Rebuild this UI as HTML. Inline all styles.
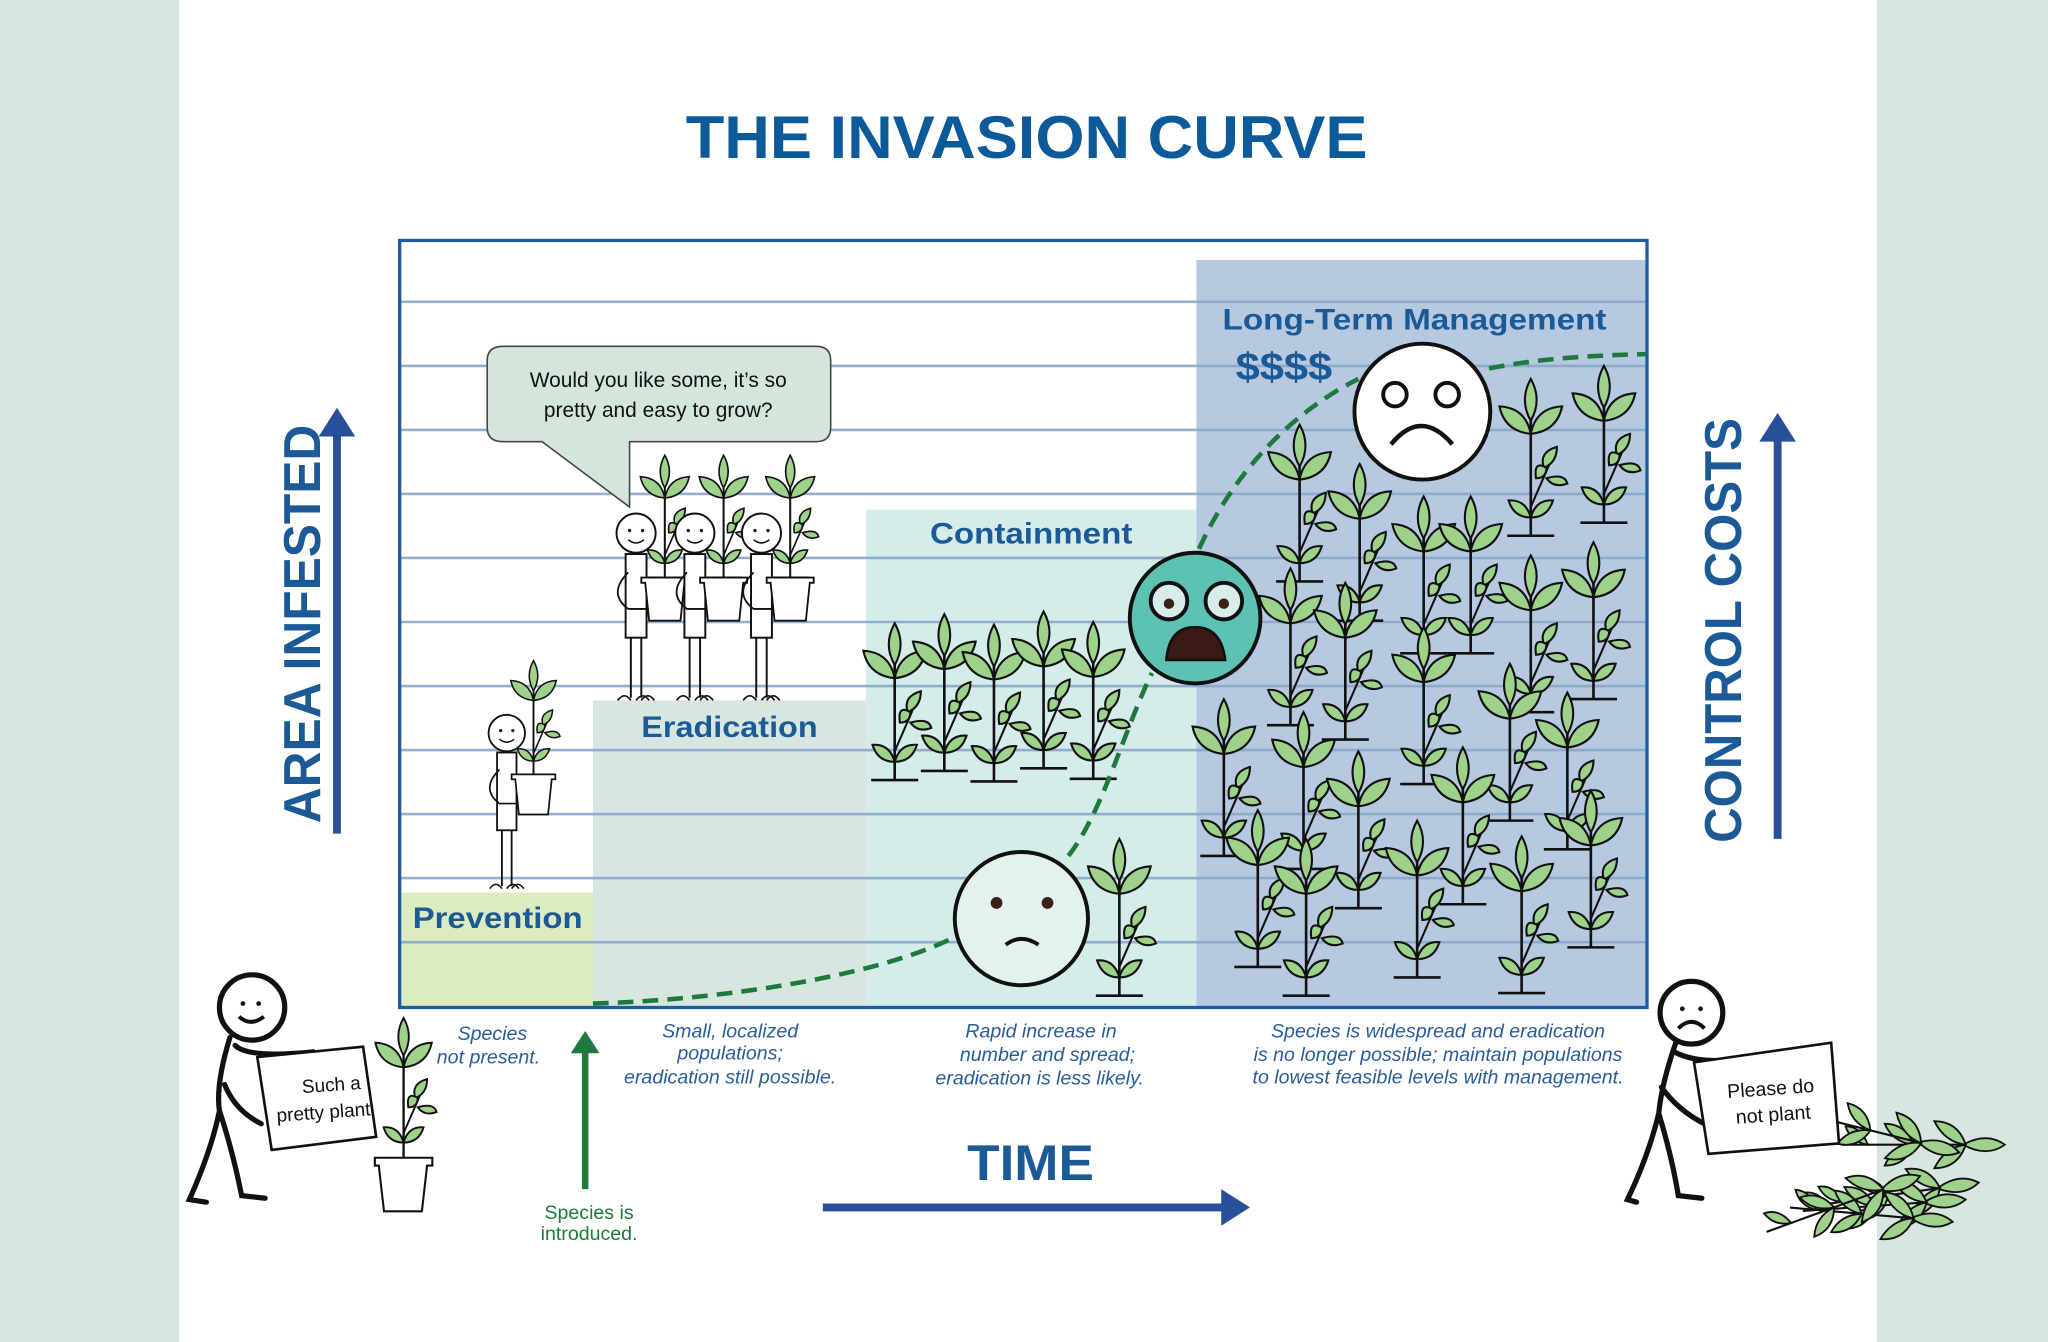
<!DOCTYPE html>
<html><head><meta charset="utf-8"><style>html,body{margin:0;padding:0;background:#fff}svg{display:block}</style></head>
<body>
<svg width="2048" height="1342" viewBox="0 0 1568 1027" preserveAspectRatio="none" xmlns="http://www.w3.org/2000/svg" font-family="Liberation Sans, sans-serif">
<defs>
<g id="p">
 <line x1="0" y1="0" x2="0" y2="-92" stroke="#111" stroke-width="2"/>
 <line x1="-18" y1="0" x2="18" y2="0" stroke="#111" stroke-width="2"/>
 <line x1="0" y1="-22" x2="20" y2="-68" stroke="#111" stroke-width="1.6"/>
 <g fill="#9ed28a" stroke="#111" stroke-width="1.6">
  <path d="M0,-120 Q9,-104 0,-88 Q-9,-104 0,-120Z"/>
  <path d="M0,-78 Q-4,-98 -24,-99 Q-20,-80 0,-78Z"/>
  <path d="M0,-78 Q4,-98 24,-99 Q20,-80 0,-78Z"/>
  <path d="M20,-68 Q6,-64 10,-52 Q20,-56 20,-68Z"/>
  <path d="M12,-52 Q2,-58 4,-44 Q12,-44 12,-52Z"/>
  <path d="M12,-44 Q26,-48 28,-40 Q18,-36 12,-44Z"/>
  <path d="M0,-14 Q-4,-28 -17,-27 Q-13,-14 0,-14Z"/>
  <path d="M0,-14 Q4,-28 17,-27 Q13,-14 0,-14Z"/>
 </g>
</g>
<g id="pr">
 <line x1="0" y1="0" x2="-125" y2="0" stroke="#111" stroke-width="1.6"/>
 <g fill="#9ed28a" stroke="#111" stroke-width="1.4">
  <path d="M0,0 Q-14,-10 -32,0 Q-14,10 0,0Z"/>
  <path d="M-30,0 Q-36,-18 -54,-18 Q-46,-2 -30,0Z"/>
  <path d="M-30,0 Q-36,18 -54,18 Q-46,2 -30,0Z"/>
  <path d="M-70,0 Q-76,-16 -92,-16 Q-86,-2 -70,0Z"/>
  <path d="M-70,0 Q-76,16 -92,16 Q-86,2 -70,0Z"/>
  <path d="M-105,0 Q-110,-14 -122,-14 Q-118,-2 -105,0Z"/>
 </g>
</g>
<g id="man">
 <line x1="-4" y1="80" x2="-4" y2="126" stroke="#111" stroke-width="1.5"/>
 <line x1="4" y1="80" x2="4" y2="126" stroke="#111" stroke-width="1.5"/>
 <path d="M-14,128 q5,-7 10,0 M0,128 q5,-7 10,0 M4,128 q5,-7 10,0" fill="none" stroke="#111" stroke-width="1.3"/>
 <rect x="-8" y="16" width="16" height="64" fill="#fff" stroke="#111" stroke-width="1.5"/>
 <circle cx="0" cy="0" r="15" fill="#fff" stroke="#111" stroke-width="1.5"/>
 <circle cx="-5" cy="-2" r="1.3" fill="#111"/><circle cx="5" cy="-2" r="1.3" fill="#111"/>
 <path d="M-6,5 Q0,10 6,5" fill="none" stroke="#111" stroke-width="1.2"/>
 <path d="M-6,30 Q-22,46 -6,58 L16,58" fill="none" stroke="#111" stroke-width="1.4"/>
 <use href="#p" transform="translate(22,34) scale(0.78)"/>
 <path d="M4,34 L40,34 L40,38 L37,38 L34,67 L10,67 L7,38 L4,38Z" fill="#fff" stroke="#111" stroke-width="1.4"/>
</g>
</defs>

<rect x="0" y="0" width="1568" height="1027" fill="#fff"/>
<rect x="0" y="0" width="137" height="1027" fill="#d7e6df"/>
<rect x="1437" y="0" width="131" height="1027" fill="#d7e6df"/>

<text x="786" y="121" text-anchor="middle" font-size="46" font-weight="bold" fill="#0d5a9a" textLength="522" lengthAdjust="spacingAndGlyphs">THE INVASION CURVE</text>

<rect x="306" y="683" width="148" height="88" fill="#ddebc0"/>
<rect x="454" y="536" width="209" height="235" fill="#d8e6e0"/>
<rect x="663" y="390" width="253" height="381" fill="#d4ecea"/>
<rect x="916" y="199" width="344" height="572" fill="#b6c9e1"/>

<g stroke="#8aa7c9" stroke-width="2" opacity="0.9">
<line x1="307" y1="231" x2="1260" y2="231"/><line x1="307" y1="280" x2="1260" y2="280"/>
<line x1="307" y1="329" x2="1260" y2="329"/><line x1="307" y1="378" x2="1260" y2="378"/>
<line x1="307" y1="427" x2="1260" y2="427"/><line x1="307" y1="476" x2="1260" y2="476"/>
<line x1="307" y1="525" x2="1260" y2="525"/><line x1="307" y1="574" x2="1260" y2="574"/>
<line x1="307" y1="623" x2="1260" y2="623"/><line x1="307" y1="672" x2="1260" y2="672"/>
<line x1="307" y1="721" x2="1260" y2="721"/>
</g>
<rect x="306" y="184" width="955" height="587" fill="none" stroke="#1f5aa0" stroke-width="2.5"/>

<g font-weight="bold" fill="#1b5a96" font-size="23">
<text x="316" y="710" textLength="130" lengthAdjust="spacingAndGlyphs">Prevention</text>
<text x="491" y="564" textLength="135" lengthAdjust="spacingAndGlyphs">Eradication</text>
<text x="712" y="416" textLength="155" lengthAdjust="spacingAndGlyphs">Containment</text>
<text x="936" y="252" textLength="294" lengthAdjust="spacingAndGlyphs">Long-Term Management</text>
<text x="946" y="291" font-size="30" textLength="74" lengthAdjust="spacingAndGlyphs">$$$$</text>
</g>

<path d="M385,265 L625,265 Q636,265 636,276 L636,327 Q636,338 625,338 L482,338 L482,388 L415,338 L385,338 Q373,338 373,327 L373,276 Q373,265 385,265Z" fill="#d4e5dc" stroke="#444" stroke-width="1.2"/>
<text x="504" y="296" text-anchor="middle" font-size="16" fill="#111">Would you like some, it’s so</text>
<text x="504" y="319" text-anchor="middle" font-size="16" fill="#111">pretty and easy to grow?</text>

<use href="#man" transform="translate(487,408)"/>
<use href="#man" transform="translate(532,408)"/>
<use href="#man" transform="translate(583,408)"/>
<use href="#man" transform="translate(388,561) scale(0.93)"/>

<use href="#p" transform="translate(685,597)"/>
<use href="#p" transform="translate(723,590)"/>
<use href="#p" transform="translate(761,598)"/>
<use href="#p" transform="translate(799,588)"/>
<use href="#p" transform="translate(837,596)"/>
<use href="#p" transform="translate(857,762)"/>
<use href="#p" transform="translate(995,445)"/>
<use href="#p" transform="translate(1041,475)"/>
<use href="#p" transform="translate(1090,500)"/>
<use href="#p" transform="translate(1126,500)"/>
<use href="#p" transform="translate(1172,410)"/>
<use href="#p" transform="translate(1228,400)"/>
<use href="#p" transform="translate(988,555)"/>
<use href="#p" transform="translate(1030,566)"/>
<use href="#p" transform="translate(1090,600)"/>
<use href="#p" transform="translate(1172,545)"/>
<use href="#p" transform="translate(1156,628)"/>
<use href="#p" transform="translate(1220,535)"/>
<use href="#p" transform="translate(937,655)"/>
<use href="#p" transform="translate(998,665)"/>
<use href="#p" transform="translate(1040,695)"/>
<use href="#p" transform="translate(1120,692)"/>
<use href="#p" transform="translate(1200,650)"/>
<use href="#p" transform="translate(963,740)"/>
<use href="#p" transform="translate(1000,762)"/>
<use href="#p" transform="translate(1085,748)"/>
<use href="#p" transform="translate(1165,760)"/>
<use href="#p" transform="translate(1218,725)"/>

<path d="M454,768 C560,765 680,745 735,715 M818,655 C845,620 860,560 882,515 M918,420 C950,350 1000,310 1040,290 M1140,282 C1180,274 1220,272 1260,271" fill="none" stroke="#1e7a3c" stroke-width="3.5" stroke-dasharray="12,7"/>

<circle cx="782" cy="703" r="51" fill="#e3f2ee" stroke="#111" stroke-width="3"/>
<circle cx="763" cy="691" r="4.5" fill="#3a2118"/><circle cx="802" cy="691" r="4.5" fill="#3a2118"/>
<path d="M770,723 Q782,714 795,723" fill="none" stroke="#111" stroke-width="3"/>
<circle cx="915" cy="473" r="50" fill="#5ec2b2" stroke="#111" stroke-width="3"/>
<circle cx="895" cy="460" r="14" fill="#d8ecea" stroke="#111" stroke-width="3"/>
<circle cx="937" cy="460" r="14" fill="#d8ecea" stroke="#111" stroke-width="3"/>
<circle cx="895" cy="462" r="4" fill="#3a2118"/><circle cx="937" cy="462" r="4" fill="#3a2118"/>
<path d="M893,505 Q895,480 915,480 Q935,480 938,505Z" fill="#3a1a14" stroke="#111" stroke-width="2"/>
<circle cx="1089" cy="315" r="52" fill="#fff" stroke="#111" stroke-width="3"/>
<circle cx="1068" cy="302" r="9" fill="#fff" stroke="#111" stroke-width="3"/>
<circle cx="1108" cy="302" r="9" fill="#fff" stroke="#111" stroke-width="3"/>
<path d="M1065,340 Q1088,312 1112,340" fill="none" stroke="#111" stroke-width="3.5"/>

<text transform="translate(245,630) rotate(-90)" font-size="40" font-weight="bold" fill="#1b5a96" textLength="305" lengthAdjust="spacingAndGlyphs">AREA INFESTED</text>
<line x1="258" y1="638" x2="258" y2="330" stroke="#2a4f9a" stroke-width="6"/>
<path d="M244,334 L258,312 L272,334Z" fill="#2a4f9a"/>
<text transform="translate(1333,645) rotate(-90)" font-size="40" font-weight="bold" fill="#1b5a96" textLength="325" lengthAdjust="spacingAndGlyphs">CONTROL COSTS</text>
<line x1="1361" y1="642" x2="1361" y2="334" stroke="#2a4f9a" stroke-width="6"/>
<path d="M1347,338 L1361,316 L1375,338Z" fill="#2a4f9a"/>

<g font-style="italic" font-size="15" fill="#2a5c9a" text-anchor="middle">
<text x="377" y="796">Species</text><text x="374" y="814">not present.</text>
<text x="559" y="794">Small, localized</text><text x="559" y="811">populations;</text><text x="559" y="829">eradication still possible.</text>
<text x="797" y="794">Rapid increase in</text><text x="802" y="812">number and spread;</text><text x="796" y="830">eradication is less likely.</text>
<text x="1101" y="794">Species is widespread and eradication</text><text x="1101" y="812">is no longer possible; maintain populations</text><text x="1101" y="829">to lowest feasible levels with management.</text>
</g>
<line x1="448" y1="910" x2="448" y2="800" stroke="#1e7a3c" stroke-width="5"/>
<path d="M437,806 L448,789 L459,806Z" fill="#1e7a3c"/>
<text x="451" y="933" text-anchor="middle" font-size="15" fill="#1e7a3c">Species is</text>
<text x="451" y="949" text-anchor="middle" font-size="15" fill="#1e7a3c">introduced.</text>
<text x="789" y="903" text-anchor="middle" font-size="38" font-weight="bold" fill="#1b5a96" textLength="97" lengthAdjust="spacingAndGlyphs">TIME</text>
<line x1="630" y1="924" x2="940" y2="924" stroke="#2a4f9a" stroke-width="6"/>
<path d="M935,910 L957,924 L935,938Z" fill="#2a4f9a"/>

<g fill="none" stroke="#111" stroke-width="4" stroke-linecap="round">
<circle cx="193" cy="771" r="25" fill="#fff"/>
<path d="M176,794 Q165,830 168,850 M168,850 Q162,880 145,918 L158,920 M168,850 Q178,880 185,915 L203,917"/>
<path d="M180,800 Q190,810 240,805 M172,830 Q180,850 200,860"/>
</g>
<circle cx="186" cy="768" r="1.8" fill="#111"/><circle cx="198" cy="768" r="1.8" fill="#111"/>
<path d="M183,778 Q192,786 202,778" fill="none" stroke="#111" stroke-width="3"/>
<path d="M197,809 L278,801 L288,870 L208,880Z" fill="#fff" stroke="#111" stroke-width="2"/>
<text x="254" y="835" text-anchor="middle" font-size="14.5" fill="#111" transform="rotate(-4 254 835)">Such a</text>
<text x="248" y="856" text-anchor="middle" font-size="14.5" fill="#111" transform="rotate(-4 248 856)" textLength="72" lengthAdjust="spacingAndGlyphs">pretty plant</text>
<use href="#p" transform="translate(309,887) scale(0.9)"/>
<path d="M287,886 L331,886 L331,892 L327,892 L323,927 L294,927 L290,892 L287,892Z" fill="#fff" stroke="#111" stroke-width="1.6"/>

<g fill="none" stroke="#111" stroke-width="4" stroke-linecap="round">
<circle cx="1295" cy="775" r="24" fill="#fff"/>
<path d="M1283,798 Q1272,830 1270,852 M1270,852 Q1262,885 1246,918 L1253,920 M1270,852 Q1280,885 1285,915 L1303,917"/>
<path d="M1282,805 Q1300,815 1340,810 M1272,832 Q1285,850 1305,860"/>
</g>
<circle cx="1288" cy="772" r="1.8" fill="#111"/><circle cx="1302" cy="772" r="1.8" fill="#111"/>
<path d="M1285,787 Q1295,777 1305,787" fill="none" stroke="#111" stroke-width="3"/>
<use href="#pr" transform="translate(1535,876)"/>
<use href="#pr" transform="translate(1515,905) rotate(-8)"/>
<use href="#pr" transform="translate(1500,882) rotate(14)"/>
<path d="M1297,813 L1402,798 L1408,875 L1308,883Z" fill="#fff" stroke="#111" stroke-width="2"/>
<text x="1356" y="838" text-anchor="middle" font-size="15" fill="#111" transform="rotate(-4 1356 838)">Please do</text>
<text x="1358" y="858" text-anchor="middle" font-size="15" fill="#111" transform="rotate(-4 1358 858)">not plant</text>
<use href="#pr" transform="translate(1505,918) rotate(-4)"/>
<use href="#pr" transform="translate(1495,935) rotate(5)"/>
<use href="#pr" transform="translate(1470,900) rotate(-20)"/>
</svg>
</body></html>
